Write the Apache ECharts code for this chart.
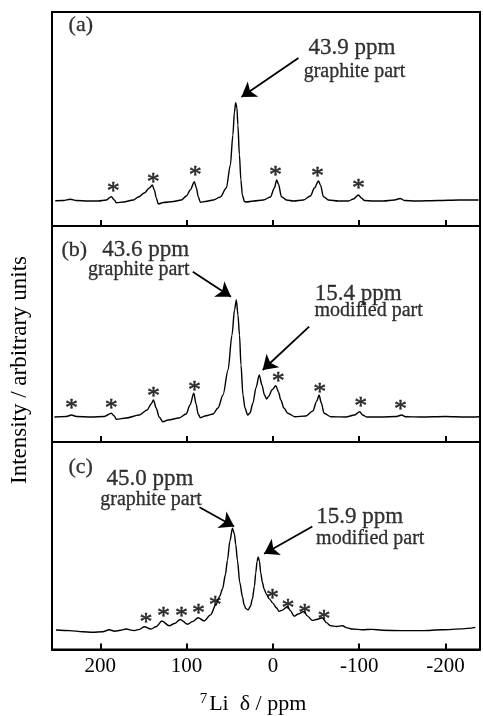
<!DOCTYPE html>
<html><head><meta charset="utf-8">
<script src="https://cdn.jsdelivr.net/npm/echarts@6/dist/echarts.min.js"></script>
<style>html,body{margin:0;padding:0;background:#fff}#c{width:483px;height:716px}</style>
</head><body><div id="c"></div>
<script>
// ---------- data ----------
const tickValues = [200, 100, 0, -100, -200];

// (a) spectrum
const specA_ppm = [252.2,242.9,234.8,227.8,213.9,202.3,193,187.2,183.8,181.4,173.3,161.7,155.9,149,143.2,139.7,137.4,135.1,132.8,127,115.4,106.1,100.3,95.7,91,88.7,86.4,84.1,78.3,69,60.9,54,49.3,46.4,44.6,43.1,41.7,40.6,38.8,37.1,35.4,33,30.7,22.6,11,2.9,-1.7,-4.4,-6.4,-9.9,-15.7,-23.8,-35.4,-43.5,-48.1,-52.8,-55.1,-58.6,-64.3,-75.9,-87.5,-93.3,-99.1,-102.6,-106.1,-116.5,-128.1,-140.9,-147.5,-152.5,-165.2,-191.9,-215.1,-238.3];
const specA_int = [0.3,0.5,1.7,0.5,0,0,1,4.3,1,-1.7,-1,1,4,8,13,16,11,3,-3,-1.5,-0.5,1,5,11,19.3,13,4,-1.3,-0.5,1,4,13,36,66,89,98.3,93,76,46,21,6,-0.5,-1,0,1,4,13,21,17,4.3,1,0,1,5,13,20,16,4.3,1,0,0,2,6,3,0.5,0,0,1,2.5,0.5,0,0.5,1,1];

// (b) spectrum
const specB_ppm = [253.2,239.3,233.5,227.7,210.4,195.4,187.3,183.8,181.5,169.9,154.9,145.7,141.1,138.4,135.3,131.8,127.5,121.4,108.7,100.6,96,91.7,89,86.7,84,77.5,69.4,63.6,57.8,52,47.4,44.5,42.4,40.5,38.7,37,34.7,32.4,29.2,26.6,23.1,19.7,15.8,12.7,9.8,7.3,4.6,1.2,-3.5,-6.4,-9.2,-12.7,-17.3,-25.4,-38.2,-46.2,-50.9,-53.5,-56.1,-59.3,-67.1,-84.4,-94.8,-100.6,-104,-108.7,-124.9,-143.4,-149.1,-153.8,-171.1,-200,-223.1,-239.3];
const specB_int = [-0.3,0.2,1.7,0.2,-0.3,0.2,3.4,0.7,-2.6,-1.3,1.7,6.7,12.7,16.7,8.7,-0.3,-5,-3.3,-1.3,2.7,11.7,23.4,12.7,2.7,-1,1,2.7,8.7,21.7,46.7,81.7,106.7,116.7,101.7,81.7,51.7,21.7,8.7,1.7,3.7,13.7,28.7,41.7,31.7,21.7,17.7,20.7,26.7,31,24.7,16.7,8.7,3.4,0,0.7,5.7,15.7,21.7,13.7,3.4,0,-0.3,1.7,5,1.7,-0.3,-0.3,0.2,1.7,0,-0.3,0.2,-0.3,0];

// (c) spectrum
const specC_ppm = [251.4,235.5,220.5,208.9,197.3,189.6,183.4,176.5,170.4,160.6,154.5,149.1,141.4,134.8,128.7,120.1,114,107.4,99,93.2,86.6,79.6,72.3,66.2,61.9,58.4,55,52.7,49.8,46.9,44.6,43.1,41.1,38.4,35.3,33.3,31.3,28.7,26,23.7,21.4,19.9,18.3,17.1,15.6,14.1,12.2,10.2,7.5,4.4,-0.2,-4,-7.2,-11,-16.8,-20.3,-24.5,-29.5,-36.1,-39.9,-45.7,-51.5,-57.3,-61.9,-66.9,-73.5,-80.4,-86.2,-92,-103.6,-115.2,-126.8,-149.9,-173.1,-196.3,-219.4,-234.7];
const specC_int = [0.6,0,-1.2,-1.7,-1.2,0.8,-0.7,0.3,1.6,0,1.3,4,1.6,4.3,10,5,7.3,11.6,6.6,9.3,13.3,10,16.3,26.6,35.3,43.3,58.3,73.3,93.3,106.6,100.3,90,73.3,50,35.3,26.6,22.8,21.6,25.3,33.3,46.3,60,72.3,76.6,72.3,60,50.3,43.3,37.8,33.3,28.3,23.8,20,21.3,25,20.8,15,17.3,20,15.3,10.6,11.8,13.3,8.3,5,4.3,5,2.8,1.6,0.8,1.3,0.3,0,0,0.8,1.8,3.3];

// spinning sideband markers (*)
const starsA_ppm = [184.9,138.6,89.9,-2.9,-51.6,-99.1];
const starsA_int = [13,22,29,29,28,16];
const starsB_ppm = [233.5,187.3,138.4,91,-6.1,-54.3,-101.7,-148];
const starsB_int = [11.7,11.7,23.4,30,38.4,27.4,14,10.7];
const starsC_ppm = [147.2,126.7,105.9,86.2,66.9,0.6,-17.6,-36.8,-59.3];
const starsC_int = [11.6,18.3,17.6,21.6,30,36.6,26.6,21.6,15];

// annotation texts: [text, ppm, intensity, kind]
const notesA = [["(a)",222.6,176,"letter"],["43.9 ppm",-91.6,153,"ppm"],["graphite part",-94.5,129,"part"]];
const notesB = [["(b)",230.1,166.7,"letter"],["43.6 ppm",147.4,166.7,"ppm"],["graphite part",155.5,146.7,"part"],["15.4 ppm",-98.8,122.7,"ppm"],["modified part",-111,105.7,"part"]];
const notesC = [["(c)",222.8,170.3,"letter"],["45.0 ppm",142.4,158.3,"ppm"],["graphite part",141.2,136.3,"part"],["15.9 ppm",-100.7,118.3,"ppm"],["modified part",-112.8,95.3,"part"]];

// arrows: [fromPpm, fromInt, toPpm, toInt]
const arrowsA = [[-29.6,143,36.5,104]];
const arrowsB = [[92.8,145,48.6,120],[-42,90,11.9,46.7]];
const arrowsC = [[85.1,128.3,44.9,108.3],[-45.7,108.3,10.2,80]];

// ---------- layout / style ----------
const FONT = '"Liberation Serif", "Times New Roman", serif';
const panels = [
  {ppm: specA_ppm, int: specA_int, sp: starsA_ppm, si: starsA_int, notes: notesA, arrows: arrowsA, top: 12, height: 214, ymin: -25, ymax: 189},
  {ppm: specB_ppm, int: specB_int, sp: starsB_ppm, si: starsB_int, notes: notesB, arrows: arrowsB, top: 226, height: 216, ymin: -25.3, ymax: 190.7},
  {ppm: specC_ppm, int: specC_int, sp: starsC_ppm, si: starsC_int, notes: notesC, arrows: arrowsC, top: 442, height: 216, ymin: -19.7, ymax: 196.3}
];
const fontSizes = {letter: 22, ppm: 23, part: 20};

const grid = [], xAxis = [], yAxis = [], series = [];
panels.forEach((p, i) => {
  grid.push({left: 52, width: 428, top: p.top, height: p.height, show: true,
    borderColor: '#000', borderWidth: 2, backgroundColor: 'transparent'});
  xAxis.push({
    type: 'value', gridIndex: i, min: -240, max: 256, inverse: true,
    axisLine: {show: true, onZero: false, lineStyle: {color: '#000', width: 2}},
    axisTick: {show: true, inside: true, length: 6, lineStyle: {color: '#000', width: 2}, customValues: tickValues},
    axisLabel: {show: i === 2, customValues: tickValues, color: '#000', fontFamily: FONT, fontSize: 21, margin: 6},
    splitLine: {show: false},
    name: i === 2 ? '{sup|7}{t|Li  δ / ppm}' : '',
    nameLocation: 'middle', nameGap: 42,
    nameTextStyle: {color: '#000', fontFamily: FONT, padding: [0, 26, 0, 0],
      rich: {sup: {fontSize: 15, fontFamily: FONT, color: '#000', padding: [0, 2, 10, 0]},
             t: {fontSize: 22, fontFamily: FONT, color: '#000'}}}
  });
  yAxis.push({type: 'value', gridIndex: i, min: p.ymin, max: p.ymax, show: false});
  const n = Math.min(p.ppm.length, p.int.length);
  const line = [];
  for (let k = 0; k < n; k++) line.push([p.ppm[k], p.int[k]]);
  series.push({
    type: 'line', xAxisIndex: i, yAxisIndex: i, data: line, showSymbol: false, symbol: 'none',
    smooth: 0.3, smoothMonotone: 'x',
    lineStyle: {color: '#000', width: 1.4}, silent: true,
    markLine: {
      silent: true, symbol: ['none', 'arrow'], symbolSize: 14,
      label: {show: false},
      lineStyle: {color: '#000', width: 1.8, type: 'solid'},
      data: p.arrows.map(a => [{coord: [a[0], a[1]]}, {coord: [a[2], a[3]]}])
    }
  });
  const marks = [];
  for (let k = 0; k < p.sp.length; k++) {
    marks.push({name: '*', value: [p.sp[k], p.si[k]], label: {fontSize: 26, offset: [0, 4], textBorderWidth: 0.5}});
  }
  p.notes.forEach(nt => marks.push({name: nt[0], value: [nt[1], nt[2]], label: {fontSize: fontSizes[nt[3]]}}));
  series.push({
    type: 'scatter', xAxisIndex: i, yAxisIndex: i, data: marks, symbolSize: 1, silent: true,
    itemStyle: {color: 'rgba(0,0,0,0)'},
    label: {show: true, position: 'inside', formatter: '{b}', color: '#000', fontFamily: FONT,
      textBorderColor: '#000', textBorderWidth: 0.3}
  });
});

const chart = echarts.init(document.getElementById('c'), null, {renderer: 'canvas'});
chart.setOption({
  animation: false,
  backgroundColor: '#fff',
  grid, xAxis, yAxis, series,
  graphic: [{
    type: 'text', x: 20, y: 370, rotation: Math.PI / 2,
    style: {text: 'Intensity / arbitrary units', font: '23px "Liberation Serif", serif', fill: '#000',
      textAlign: 'center', textVerticalAlign: 'middle'}
  }]
});
</script>
</body></html>
